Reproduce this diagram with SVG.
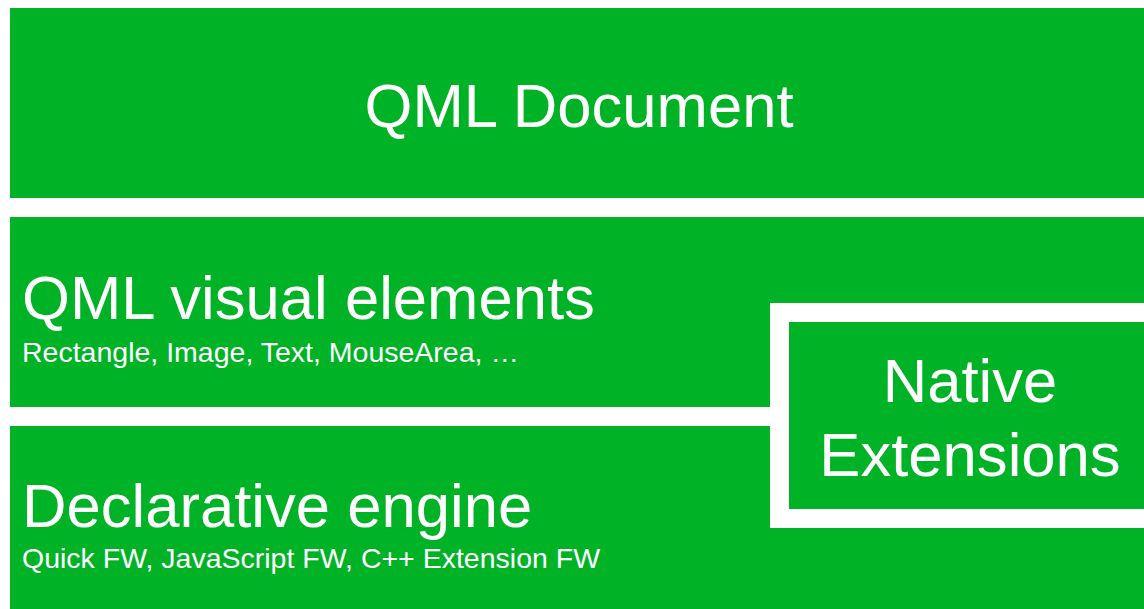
<svg xmlns="http://www.w3.org/2000/svg" width="1144" height="609" viewBox="0 0 1144 609">
<style>
.box{fill:#00B326}
.t{fill:#fff;font-family:"Liberation Sans",Arial,sans-serif}
.big{font-size:61.6px}
.small{font-size:28.5px}
</style>
<rect width="1144" height="609" fill="#fff"/>
<g id="qml-document">
<rect class="box" x="10" y="8" width="1134" height="190"/>
<text class="t big" x="579" y="127" text-anchor="middle">QML Document</text>
</g>
<g id="qml-visual-elements">
<path class="box" d="M10,217H1144V303H770V407H10Z"/>
<text class="t big" x="22" y="319">QML visual elements</text>
<text class="t small" x="22" y="362">Rectangle, Image, Text, MouseArea, …</text>
</g>
<g id="declarative-engine">
<path class="box" d="M10,426H770V528H1144V609H10Z"/>
<text class="t big" x="22" y="527">Declarative engine</text>
<text class="t small" x="22" y="568">Quick FW, JavaScript FW, C++ Extension FW</text>
</g>
<g id="native-extensions">
<rect class="box" x="789" y="322" width="355" height="187"/>
<text class="t big" x="970" y="402" text-anchor="middle">Native</text>
<text class="t big" x="970" y="476" text-anchor="middle">Extensions</text>
</g>
<g id="connectors"/>
</svg>
